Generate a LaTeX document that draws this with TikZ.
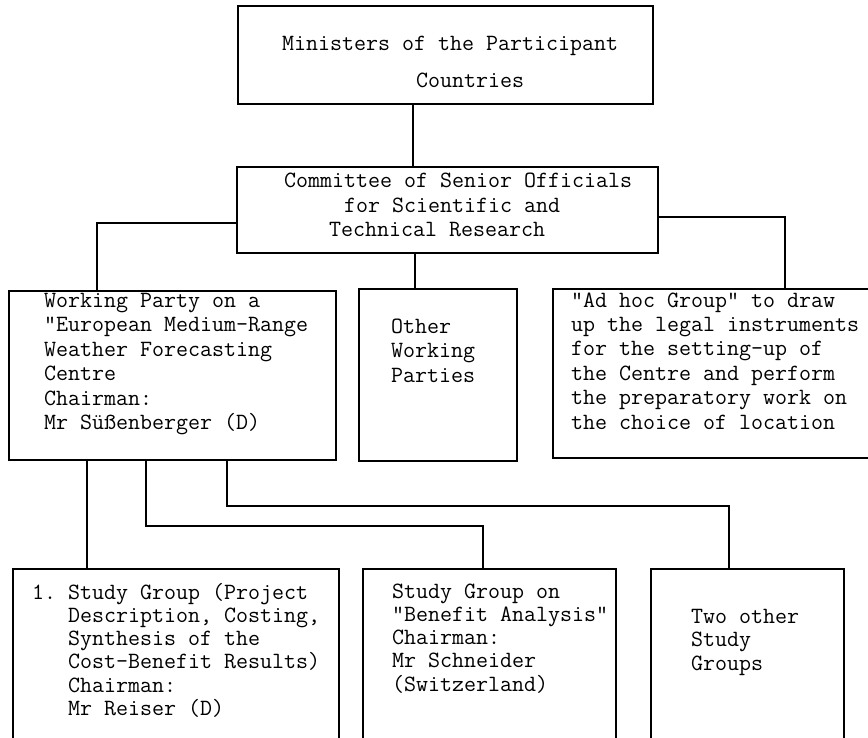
\documentclass[tikz,border=0pt]{standalone}
\newcommand\tlines[2][24.4pt]{\vtop{\baselineskip=#1\relax\lineskiplimit=-30pt\halign{##\hfil\cr#2\crcr}}}
\begin{document}
\begin{tikzpicture}[x=1pt,y=-1pt,
  box/.style={draw, line width=1.6pt, inner sep=0pt, anchor=north west},
  conn/.style={line width=1.6pt},
  txt/.style={anchor=base west, inner sep=0pt, font=\fontsize{23.3}{24.4}\selectfont\ttfamily\frenchspacing}]
\useasboundingbox (0,0) rectangle (868,737);
\clip (0,0) rectangle (868,737);
% boxes
\node[box, minimum width=415pt, minimum height=98pt] (min) at (237,5) {};
\node[box, minimum width=421pt, minimum height=86pt] (com) at (236,166) {};
\node[box, minimum width=327pt, minimum height=169pt] (wp) at (8,290) {};
\node[box, minimum width=158pt, minimum height=172pt] (other) at (358,288) {};
\node[box, minimum width=340pt, minimum height=169pt] (adhoc) at (552,288) {};
\node[box, minimum width=326pt, minimum height=190pt] (sg1) at (12,568) {};
\node[box, minimum width=253pt, minimum height=190pt] (sg2) at (362,568) {};
\node[box, minimum width=193pt, minimum height=190pt] (two) at (650,568) {};
% texts
\node[txt] (mint1) at (282,50) {Ministers of the Participant};
\node[txt] (mint2) at (416,87) {Countries};
\node[txt] (comt1) at (284,187) {Committee of Senior Officials};
\node[txt] (comt2) at (344,212) {for Scientific and};
\node[txt] (comt3) at (329,236) {Technical Research};
\node[txt] (wpt) at (44,307) {\tlines[24.5pt]{Working Party on a\cr
"European Medium-Range\cr
Weather Forecasting\cr
Centre\cr
Chairman:\cr
Mr Süßenberger (D)}};
\node[txt] (othert) at (391,333) {\tlines[24.5pt]{Other\cr Working\cr Parties}};
\node[txt] (adhoct) at (571,307) {\tlines[24.4pt]{"Ad hoc Group" to draw\cr
up the legal instruments\cr
for the setting-up of\cr
the Centre and perform\cr
the preparatory work on\cr
the choice of location}};
\node[txt] (sg1t) at (32,599) {\tlines[23.3pt]{1. Study Group (Project\cr
\phantom{1. }Description, Costing,\cr
\phantom{1. }Synthesis of the\cr
\phantom{1. }Cost-Benefit Results)\cr
\phantom{1. }Chairman:\cr
\phantom{1. }Mr Reiser (D)}};
\node[txt] (sg2t) at (392,598) {\tlines[23.3pt]{Study Group on\cr
"Benefit Analysis"\cr
Chairman:\cr
Mr Schneider\cr
(Switzerland)}};
\node[txt] (twot) at (691,623) {\tlines[23.5pt]{Two other\cr Study\cr Groups}};
% connector coordinates
\coordinate (c1) at (413,0);
\coordinate (c2) at (415,0);
\coordinate (c3) at (97,223);
\coordinate (c4) at (785,217);
\coordinate (c5) at (87,0);
\coordinate (c6) at (146,526);
\coordinate (c7) at (483,526);
\coordinate (c8) at (227,506);
\coordinate (c9) at (729,506);
% connectors
\draw[conn] (c1 |- min.south) -- (c1 |- com.north);
\draw[conn] (c2 |- com.south) -- (c2 |- other.north);
\draw[conn] (c3 -| com.west) -- (c3) -- (c3 |- wp.north);
\draw[conn] (c4 -| com.east) -- (c4) -- (c4 |- adhoc.north);
\draw[conn] (c5 |- wp.south) -- (c5 |- sg1.north);
\draw[conn] (c6 |- wp.south) -- (c6) -- (c7) -- (c7 |- sg2.north);
\draw[conn] (c8 |- wp.south) -- (c8) -- (c9) -- (c9 |- two.north);
\end{tikzpicture}
\end{document}
